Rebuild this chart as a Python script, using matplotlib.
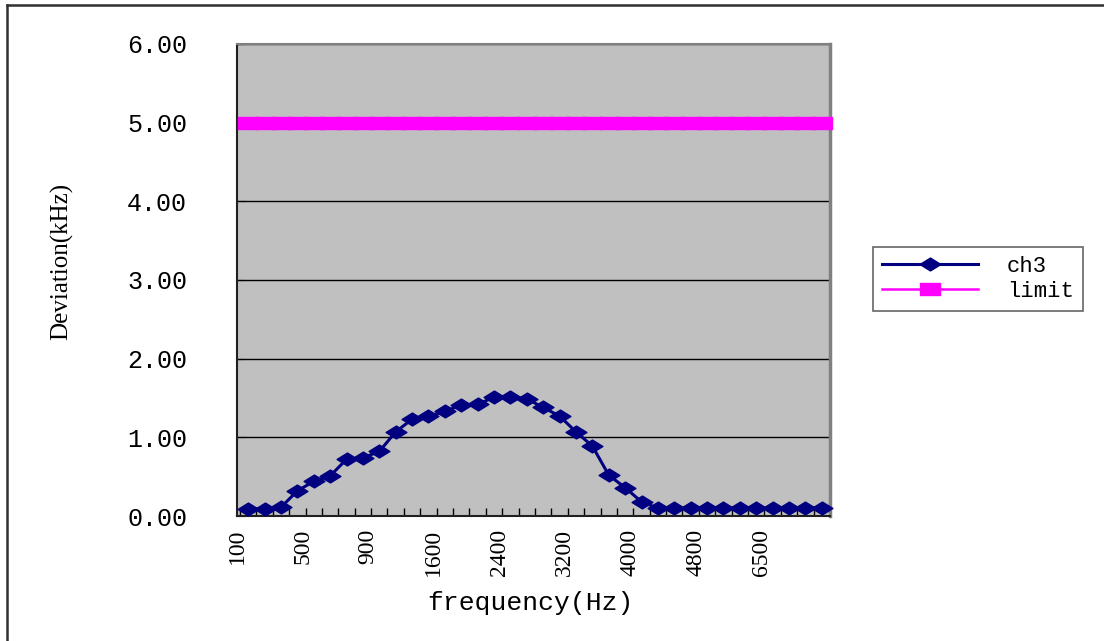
import numpy as np
import matplotlib
matplotlib.use('Agg')
import matplotlib.pyplot as plt
from matplotlib.path import Path
from matplotlib.lines import Line2D

freq = [100, 200, 300, 400, 500, 600, 700, 800, 900, 1000, 1200, 1400,
        1600, 1800, 2000, 2200, 2400, 2600, 2800, 3000, 3200, 3400, 3600, 3800,
        4000, 4200, 4400, 4600, 4800, 5000, 5500, 6000, 6500, 7000, 7500, 8000]
ch3 = [0.09, 0.09, 0.11, 0.32, 0.44, 0.51, 0.72, 0.74, 0.82, 1.07, 1.23, 1.27,
       1.33, 1.41, 1.42, 1.51, 1.51, 1.49, 1.38, 1.27, 1.07, 0.89, 0.52, 0.36,
       0.18, 0.10, 0.10, 0.10, 0.10, 0.10, 0.10, 0.10, 0.10, 0.10, 0.10, 0.10]
limit = [5.0] * len(freq)
yticks = [0, 1, 2, 3, 4, 5, 6]

mono = 'Liberation Mono'
serif = 'Liberation Serif'

# flattened diamond / wide square, chart looks stretched sideways
diamond = Path([(-1, 0), (0, 0.62), (1, 0), (0, -0.62), (-1, 0)],
               [1, 2, 2, 2, 79])
square = Path([(-1, -0.63), (1, -0.63), (1, 0.63), (-1, 0.63), (-1, -0.63)],
              [1, 2, 2, 2, 79])

fig = plt.figure(figsize=(11.04, 6.41), dpi=100)
ax = fig.add_axes([0.2147, 0.195, 0.5371, 0.7364])
ax.set_facecolor('#C0C0C0')

x = np.arange(len(freq))
ax.plot(x, ch3, color='#000080', lw=2.2, marker=diamond, ms=15,
        mfc='#000080', mec='#000080', label='ch3', clip_on=False, zorder=4)
ax.plot(x, limit, color='#FF00FF', lw=1.8, marker=square, ms=13.7,
        mfc='#FF00FF', mec='#FF00FF', label='limit', clip_on=False, zorder=3)

ax.set_xlim(-0.5, len(freq) - 0.5)
ax.set_ylim(0, 6)
ax.set_yticks(yticks)
ax.set_yticklabels(['%.2f' % v for v in yticks], fontfamily=mono, fontsize=18)
ax.yaxis.grid(True, color='black', lw=1)
ax.set_axisbelow(True)
ax.tick_params(axis='y', direction='in', length=6, pad=36, color='black')

lab_idx = x[::4]
ax.set_xticks(lab_idx - 0.68)
ax.set_xticklabels([str(freq[i]) for i in lab_idx], rotation=90,
                   fontfamily=serif, fontsize=17)
ax.tick_params(axis='x', which='major', length=0, pad=9)
ax.set_xticks(np.arange(-0.5, len(freq)), minor=True)
ax.tick_params(axis='x', which='minor', direction='in', length=6,
               color='black', width=1)

for s in ['left', 'bottom']:
    ax.spines[s].set_color('#202020')
    ax.spines[s].set_linewidth(1.5)
ax.spines['top'].set_color('#808080')
ax.spines['top'].set_linewidth(1.5)
ax.spines['right'].set_color('#808080')
ax.spines['right'].set_linewidth(2.5)

fig.text(62 / 1104, 1 - 261 / 641, 'Deviation(kHz)', rotation=90,
         ha='center', va='center', fontfamily=serif, fontsize=18)
fig.text(530 / 1104, 1 - 603 / 641, 'frequency(Hz)', ha='center',
         va='center', fontfamily=mono, fontsize=19)

leg = fig.legend(loc='center', bbox_to_anchor=(978 / 1104, 1 - 279 / 641),
                 prop={'family': mono, 'size': 16}, handlelength=4.3,
                 frameon=True, fancybox=False, borderpad=0.4,
                 labelspacing=0.2, handletextpad=1.3)
leg.get_frame().set_edgecolor('#404040')
leg.get_frame().set_linewidth(1.2)

# chart area border (only top and left visible)
fig.add_artist(Line2D([7 / 1104, 1], [1 - 5 / 641, 1 - 5 / 641],
                      transform=fig.transFigure, color='#303030', lw=1.8))
fig.add_artist(Line2D([7 / 1104, 7 / 1104], [0, 1 - 5 / 641],
                      transform=fig.transFigure, color='#303030', lw=1.8))

fig.savefig('out.png', dpi=100)
